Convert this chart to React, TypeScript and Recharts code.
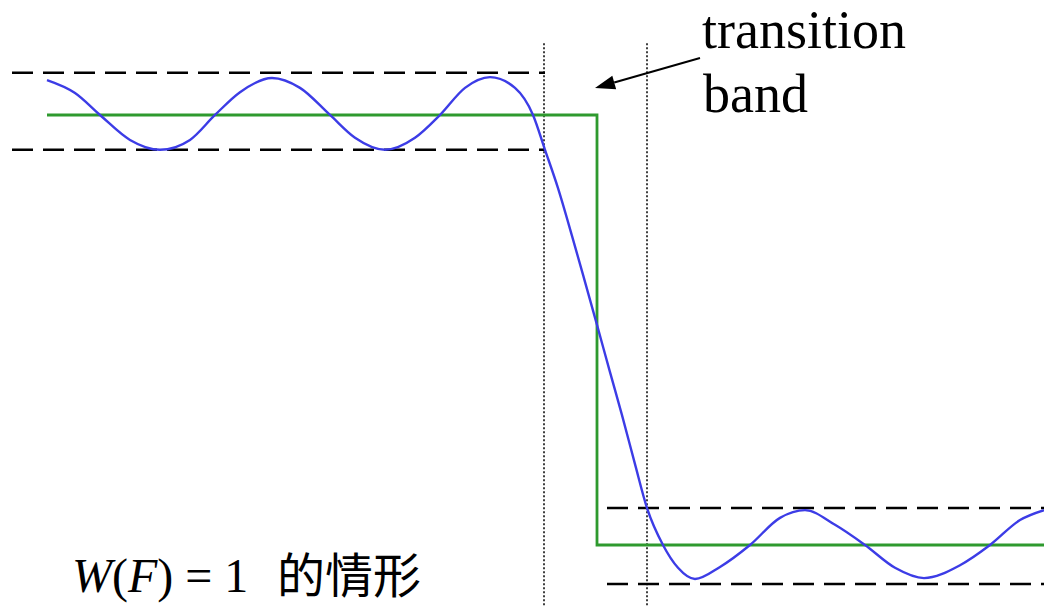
import { ComposedChart, Line, ReferenceLine, XAxis, YAxis } from "recharts";

// frequency positions (x) and amplitude readings of the equiripple response
const responseX = [47, 75, 100, 130, 160, 190, 215, 240, 272, 300, 330, 355, 385, 415, 440, 465, 490, 515, 533, 545, 558, 572, 585, 597, 610, 622, 635, 647, 663, 678, 695, 720, 750, 780, 805, 835, 865, 895, 924, 960, 990, 1020, 1044];
const responseY = [1.081, 1.051, 1.0, 0.942, 0.919, 0.942, 1.0, 1.053, 1.086, 1.063, 1.0, 0.947, 0.919, 0.947, 1.0, 1.063, 1.088, 1.063, 1.0, 0.919, 0.83, 0.719, 0.612, 0.512, 0.402, 0.302, 0.188, 0.086, 0.0, -0.053, -0.079, -0.051, 0.0, 0.063, 0.081, 0.047, 0.0, -0.053, -0.077, -0.047, 0.0, 0.058, 0.081];

// ideal lowpass response
const idealX = [47, 597, 597, 1044];
const idealY = [1, 1, 0, 0];

// tolerance bands
const passBand = { from: 12, to: 545, upper: 1.098, lower: 0.919 };
const stopBand = { from: 607, to: 1044, upper: 0.086, lower: -0.091 };
const bandEdges = [544, 647];

const response = responseX.map((x, i) => ({ x, y: responseY[i] }));
const ideal = idealX.map((x, i) => ({ x, y: idealY[i] }));

const W = 1044;
const H = 607;
const Y_DOMAIN: [number, number] = [-0.1442, 1.2674];

function Arrow(props: any) {
  const { x1, y1, x2, y2 } = props;
  const ang = Math.atan2(y2 - y1, x2 - x1);
  const len = 20;
  const half = 7;
  const bx = x2 - len * Math.cos(ang);
  const by = y2 - len * Math.sin(ang);
  const px = -Math.sin(ang) * half;
  const py = Math.cos(ang) * half;
  return (
    <g>
      <line x1={x1} y1={y1} x2={bx} y2={by} stroke="#000" strokeWidth={2} />
      <polygon points={`${x2},${y2} ${bx + px},${by + py} ${bx - px},${by - py}`} fill="#000" />
    </g>
  );
}

export default function App() {
  const dash = { stroke: "#000", strokeWidth: 2.5, strokeDasharray: "21 10" };
  return (
    <div style={{ position: "absolute", left: 0, top: 0, width: W, height: H, background: "#fff" }}>
      <ComposedChart width={W} height={H} margin={{ top: 0, right: 0, bottom: 0, left: 0 }}>
        <XAxis dataKey="x" type="number" domain={[0, W]} hide allowDataOverflow />
        <YAxis type="number" domain={Y_DOMAIN} hide allowDataOverflow />
        {[passBand, stopBand].flatMap((b) =>
          [b.upper, b.lower].map((v) => (
            <ReferenceLine
              key={`${b.from}-${v}`}
              segment={[{ x: b.from, y: v }, { x: b.to, y: v }]}
              {...dash}
            />
          )),
        )}
        {bandEdges.map((x) => (
          <ReferenceLine
            key={x}
            segment={[{ x, y: 1.167 }, { x, y: Y_DOMAIN[0] }]}
            stroke="#000"
            strokeWidth={1.5}
            strokeDasharray="2 2"
          />
        ))}
        <Line data={ideal} dataKey="y" type="linear" stroke="#2e9a2e" strokeWidth={2.8} dot={false} activeDot={false} isAnimationActive={false} />
        <Line data={response} dataKey="y" type="monotone" stroke="#3c3ce6" strokeWidth={2.4} dot={false} activeDot={false} isAnimationActive={false} />
        <ReferenceLine segment={[{ x: 700, y: 1.1326 }, { x: 595, y: 1.0628 }]} shape={Arrow} />
      </ComposedChart>
      <svg width={W} height={H} style={{ position: "absolute", left: 0, top: 0, pointerEvents: "none" }}>
        <g fontFamily="'Liberation Serif', 'Times New Roman', serif" fill="#000">
          <text x={702} y={48} fontSize={54}>transition</text>
          <text x={703} y={112} fontSize={54}>band</text>
          <text x={72} y={592} fontSize={48}>
            <tspan fontStyle="italic">W</tspan>
            <tspan>(</tspan>
            <tspan fontStyle="italic">F</tspan>
            <tspan>) = 1</tspan>
          </text>
        </g>
        <text x={277} y={593} fontSize={48} fontFamily="'Noto Sans CJK TC', 'Noto Sans CJK SC', sans-serif" fill="#000">的情形</text>
      </svg>
    </div>
  );
}
